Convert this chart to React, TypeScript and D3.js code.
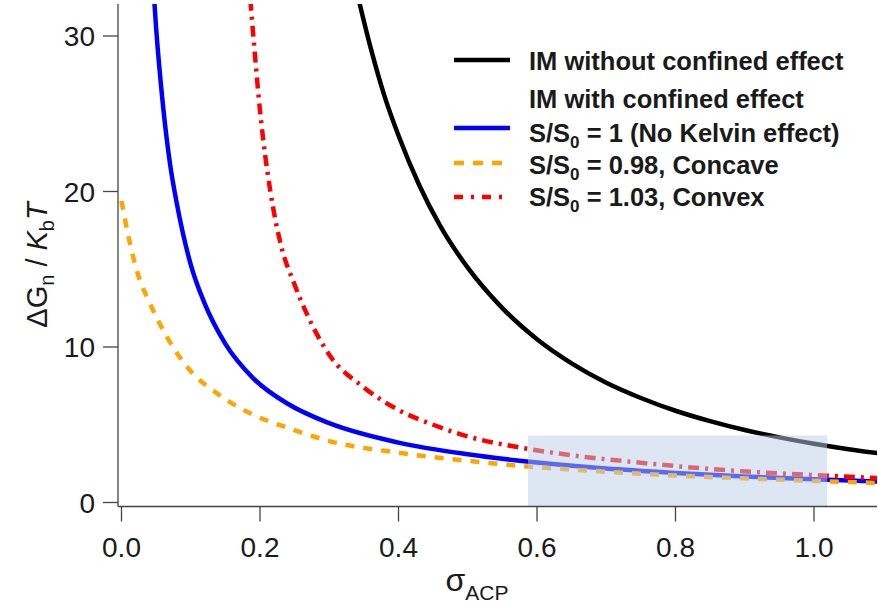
import React, { useEffect } from "react";
import * as d3 from "d3";

// ---- data ----
const SIGMA_NO_CONF = [0.34, 0.36, 0.38, 0.40, 0.43, 0.46, 0.50, 0.55, 0.60, 0.65, 0.70, 0.75, 0.80, 0.85, 0.90, 0.95, 1.00, 1.05, 1.095];
const DG_NO_CONF = [32.8, 29.2, 26.1, 23.6, 20.4, 17.8, 15.1, 12.5, 10.5, 8.95, 7.7, 6.72, 5.9, 5.23, 4.66, 4.19, 3.78, 3.43, 3.16];

const SIGMA_S1 = [0.044, 0.05, 0.06, 0.07, 0.08, 0.10, 0.12, 0.15, 0.19, 0.24, 0.30, 0.40, 0.50, 0.60, 0.70, 0.80, 0.90, 1.00, 1.095];
const DG_S1 = [34.5, 30.5, 25.5, 21.8, 19.2, 15.3, 12.8, 10.2, 8.0, 6.35, 5.1, 3.85, 3.1, 2.57, 2.18, 1.9, 1.67, 1.5, 1.35];

const SIGMA_CONCAVE = [0, 0.01, 0.025, 0.04, 0.065, 0.095, 0.14, 0.19, 0.24, 0.30, 0.40, 0.50, 0.60, 0.70, 0.80, 0.90, 1.00, 1.095];
const DG_CONCAVE = [19.4, 17.1, 14.5, 12.9, 10.7, 8.7, 6.95, 5.65, 4.8, 3.95, 3.2, 2.68, 2.27, 1.98, 1.73, 1.55, 1.39, 1.25];

const SIGMA_CONVEX = [0.183, 0.19, 0.20, 0.215, 0.23, 0.25, 0.27, 0.30, 0.35, 0.40, 0.45, 0.50, 0.58, 0.66, 0.74, 0.86, 1.02, 1.095];
const DG_CONVEX = [34, 30.2, 25.2, 20.0, 16.6, 14.0, 11.9, 9.5, 7.4, 5.95, 5.0, 4.25, 3.5, 2.98, 2.6, 2.12, 1.72, 1.57];

const HIGHLIGHT_SIGMA = [0.587, 1.019];
const HIGHLIGHT_DG_TOP = 4.31;

const X_TICKS = [0, 0.2, 0.4, 0.6, 0.8, 1.0];
const Y_TICKS = [0, 10, 20, 30];

const LEGEND_LABELS = [
  "IM without confined effect",
  "IM with confined effect",
  "1 (No Kelvin effect)",
  "0.98, Concave",
  "1.03, Convex",
];

// ---- layout ----
const W = 878;
const H = 611;
const X_LEFT = 118;
const X_RIGHT = 877;
const X_ZERO_PX = 121.5;
const PX_PER_X = 692.5;
const Y_BOTTOM = 506.5;
const Y_TOP = 4;
const Y_ZERO_PX = 502.5;
const PX_PER_Y = 15.55;

const FONT = "'Liberation Sans', Arial, Helvetica, sans-serif";
const AXIS_COLOR = "#444";
const TEXT_COLOR = "#1a1a1a";

export default function App() {
  useEffect(() => {
    document.body.style.margin = "0";
  }, []);

  const x = d3
    .scaleLinear()
    .domain([(X_LEFT - X_ZERO_PX) / PX_PER_X, (X_RIGHT - X_ZERO_PX) / PX_PER_X])
    .range([X_LEFT, X_RIGHT]);
  const y = d3
    .scaleLinear()
    .domain([(Y_ZERO_PX - Y_BOTTOM) / PX_PER_Y, (Y_ZERO_PX - Y_TOP) / PX_PER_Y])
    .range([Y_BOTTOM, Y_TOP]);

  const line = d3
    .line<[number, number]>()
    .x((d) => x(d[0]))
    .y((d) => y(d[1]))
    .curve(d3.curveMonotoneX);

  const zip = (a: number[], b: number[]) => a.map((v, i) => [v, b[i]] as [number, number]);

  const series = [
    { data: zip(SIGMA_NO_CONF, DG_NO_CONF), color: "#000000", dash: undefined as string | undefined },
    { data: zip(SIGMA_S1, DG_S1), color: "#0000ff", dash: undefined },
    { data: zip(SIGMA_CONCAVE, DG_CONCAVE), color: "#ffa500", dash: "9,9" },
    { data: zip(SIGMA_CONVEX, DG_CONVEX), color: "#ff0000", dash: "11,6,3,6" },
  ];

  const legendLineX0 = 454;
  const legendLineX1 = 510;
  const legendTextX = 529;
  const legendFont = 25.5;
  const subFont = 17;

  return (
    <svg width={W} height={H} style={{ display: "block" }} fontFamily={FONT}>
      <defs>
        <clipPath id="plotClip">
          <rect x={X_LEFT} y={Y_TOP} width={X_RIGHT - X_LEFT} height={Y_BOTTOM - Y_TOP} />
        </clipPath>
      </defs>
      <rect width={W} height={H} fill="#fff" />

      {/* curves */}
      <g clipPath="url(#plotClip)">
        {series.map((s, i) => (
          <path
            key={i}
            d={line(s.data) || ""}
            fill="none"
            stroke={s.color}
            strokeWidth={4.5}
            strokeDasharray={s.dash}
          />
        ))}
      </g>

      {/* highlight box */}
      <rect
        x={x(HIGHLIGHT_SIGMA[0])}
        y={y(HIGHLIGHT_DG_TOP)}
        width={x(HIGHLIGHT_SIGMA[1]) - x(HIGHLIGHT_SIGMA[0])}
        height={Y_BOTTOM - y(HIGHLIGHT_DG_TOP)}
        fill="rgb(185,207,231)"
        fillOpacity={0.5}
      />

      {/* y axis */}
      <line x1={X_LEFT} x2={X_LEFT} y1={Y_TOP} y2={Y_BOTTOM} stroke={AXIS_COLOR} strokeWidth={1.3} />
      {Y_TICKS.map((t) => (
        <g key={t}>
          <line x1={X_LEFT - 15} x2={X_LEFT} y1={y(t)} y2={y(t)} stroke={AXIS_COLOR} strokeWidth={1.3} />
          <text x={95} y={y(t)} dy="0.36em" textAnchor="end" fontSize={28} fill={TEXT_COLOR}>
            {d3.format("d")(t)}
          </text>
        </g>
      ))}

      {/* x axis */}
      <line x1={X_LEFT} x2={X_RIGHT} y1={Y_BOTTOM} y2={Y_BOTTOM} stroke={AXIS_COLOR} strokeWidth={1.3} />
      {X_TICKS.map((t) => (
        <g key={t}>
          <line x1={x(t)} x2={x(t)} y1={Y_BOTTOM} y2={Y_BOTTOM + 15} stroke={AXIS_COLOR} strokeWidth={1.3} />
          <text x={x(t)} y={557} textAnchor="middle" fontSize={28} fill={TEXT_COLOR}>
            {d3.format(".1f")(t)}
          </text>
        </g>
      ))}

      {/* axis titles */}
      <text x={477} y={591} textAnchor="middle" fontSize={32} fill={TEXT_COLOR}>
        σ<tspan fontSize={21} dy={9}>ACP</tspan>
      </text>
      <text transform="translate(47,265) rotate(-90)" textAnchor="middle" fontSize={29} fill={TEXT_COLOR}>
        ΔG<tspan fontSize={20} dy={7}>n</tspan>
        <tspan dy={-7}> / </tspan>
        <tspan fontStyle="italic">K</tspan>
        <tspan fontSize={20} dy={7}>b</tspan>
        <tspan fontStyle="italic" dy={-7}>T</tspan>
      </text>

      {/* legend */}
      <g fontWeight="bold" fontSize={legendFont} fill={TEXT_COLOR}>
        <line x1={legendLineX0} x2={legendLineX1} y1={60} y2={60} stroke="#000" strokeWidth={4.5} />
        <text x={legendTextX} y={70}>{LEGEND_LABELS[0]}</text>

        <text x={legendTextX} y={108}>{LEGEND_LABELS[1]}</text>

        <line x1={legendLineX0} x2={legendLineX1} y1={128} y2={128} stroke="#0000ff" strokeWidth={4.5} />
        <text x={legendTextX} y={142}>
          S/S<tspan fontSize={subFont} dy={6}>0</tspan>
          <tspan dy={-6}> = {LEGEND_LABELS[2]}</tspan>
        </text>

        <line x1={legendLineX0} x2={legendLineX1} y1={163} y2={163} stroke="#ffa500" strokeWidth={4.5} strokeDasharray="10,9" />
        <text x={legendTextX} y={174}>
          S/S<tspan fontSize={subFont} dy={6}>0</tspan>
          <tspan dy={-6}> = {LEGEND_LABELS[3]}</tspan>
        </text>

        <line x1={legendLineX0} x2={legendLineX1} y1={197} y2={197} stroke="#ff0000" strokeWidth={4.5} strokeDasharray="9,8,3,8" />
        <text x={legendTextX} y={206}>
          S/S<tspan fontSize={subFont} dy={6}>0</tspan>
          <tspan dy={-6}> = {LEGEND_LABELS[4]}</tspan>
        </text>
      </g>
    </svg>
  );
}
